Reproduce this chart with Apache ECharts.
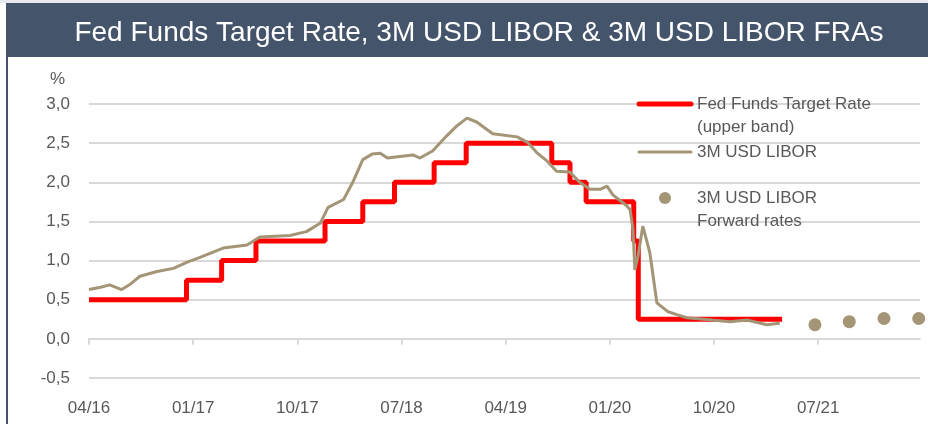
<!DOCTYPE html>
<html>
<head>
<meta charset="utf-8">
<script src="https://cdn.jsdelivr.net/npm/echarts@6/dist/echarts.min.js"></script>
<style>
  html, body { margin: 0; padding: 0; background: #fff; }
  #chart { width: 928px; height: 424px; }
</style>
</head>
<body>
<div id="chart"></div>
<script>
// x axis: months counted from April 2016, a label every 9 months
const xTickLabels = ['04/16', '01/17', '10/17', '07/18', '04/19', '01/20', '10/20', '07/21'];
const yTicks = [-0.5, 0, 0.5, 1, 1.5, 2, 2.5, 3];

// Fed Funds target rate (upper band): dates of change and new level
const fedDates = ['2016-04-01', '2016-12-14', '2017-03-15', '2017-06-14', '2017-12-13', '2018-03-21',
  '2018-06-13', '2018-09-26', '2018-12-19', '2019-07-31', '2019-09-18', '2019-10-30',
  '2020-03-03', '2020-03-15', '2021-03-28'];
const fedValues = [0.5, 0.75, 1.0, 1.25, 1.5, 1.75, 2.0, 2.25, 2.5, 2.25, 2.0, 1.75, 1.25, 0.25, 0.25];

// 3M USD LIBOR
const liborDates = ['2016-04-01', '2016-05-01', '2016-05-25', '2016-06-26', '2016-07-16', '2016-08-13',
  '2016-09-28', '2016-11-10', '2016-12-16', '2017-01-19', '2017-03-19', '2017-05-21', '2017-06-24',
  '2017-09-12', '2017-10-25', '2017-12-01', '2017-12-21', '2018-02-01', '2018-02-25', '2018-03-21',
  '2018-04-15', '2018-05-06', '2018-05-25', '2018-06-27', '2018-08-01', '2018-08-19', '2018-09-22',
  '2018-10-28', '2018-11-25', '2018-12-21', '2019-01-16', '2019-02-28', '2019-05-01', '2019-05-28',
  '2019-06-22', '2019-07-19', '2019-08-13', '2019-09-18', '2019-10-13', '2019-11-10', '2019-12-06',
  '2019-12-24', '2020-01-09', '2020-02-15', '2020-02-24', '2020-03-01', '2020-03-06', '2020-03-14',
  '2020-03-27', '2020-04-15', '2020-05-03', '2020-05-31', '2020-06-25', '2020-07-21', '2020-09-27',
  '2020-11-12', '2020-12-27', '2021-02-18', '2021-03-22'];
const liborValues = [0.63, 0.66, 0.69, 0.63, 0.69, 0.80,
  0.86, 0.90, 0.98, 1.04, 1.16, 1.20, 1.30,
  1.32, 1.37, 1.48, 1.68, 1.78, 2.00, 2.29,
  2.36, 2.37, 2.31, 2.33, 2.35, 2.31, 2.40,
  2.59, 2.72, 2.82, 2.77, 2.62, 2.58, 2.51,
  2.38, 2.27, 2.14, 2.13, 2.00, 1.91, 1.91,
  1.95, 1.84, 1.70, 1.65, 1.40, 0.88, 1.05,
  1.44, 1.10, 0.46, 0.35, 0.31, 0.27, 0.24,
  0.22, 0.24, 0.18, 0.20];

// 3M USD LIBOR forward rates (FRAs)
const fraDates = ['2021-06-23', '2021-09-22', '2021-12-22', '2022-03-22'];
const fraValues = [0.18, 0.22, 0.26, 0.26];

const seriesNames = ['Fed Funds Target Rate\n(upper band)', '3M USD LIBOR', '3M USD LIBOR\nForward rates'];

// months since 2016-04-01
function toMonths(d) {
  const [y, m, day] = d.split('-').map(Number);
  return (y - 2016) * 12 + (m - 4) + (day - 1) / 30.5;
}
const pairs = (dates, vals) => dates.map((d, i) => [toMonths(d), vals[i]]);

const textColor = '#595959';
const gridColor = '#d9d9d9';
const font = 'Liberation Sans, Arial, sans-serif';
const xTickValues = xTickLabels.map((_, i) => i * 9);

const chart = echarts.init(document.getElementById('chart'), null, { renderer: 'canvas' });

const xBase = { type: 'value', min: 0, max: 71.8, interval: 9, splitLine: { show: false } };

const option = {
  animation: false,
  title: {
    text: 'Fed Funds Target Rate, 3M USD LIBOR & 3M USD LIBOR FRAs',
    left: 474,
    top: 14,
    textAlign: 'center',
    textStyle: { color: '#ffffff', fontSize: 28, fontWeight: 'normal', fontFamily: font }
  },
  graphic: [
    { type: 'rect', z: -1, shape: { x: 0, y: 0, width: 928, height: 3 }, style: { fill: '#e7e9ec' } },
    { type: 'rect', z: -1, shape: { x: 6, y: 3, width: 922, height: 54 }, style: { fill: '#44546a' } },
    { type: 'rect', z: -1, shape: { x: 6, y: 3, width: 2, height: 421 }, style: { fill: '#44546a' } },
    // legend
    { type: 'line', z: 100, shape: { x1: 639, y1: 104, x2: 691, y2: 104 }, style: { stroke: '#ff0000', lineWidth: 5, lineCap: 'round' } },
    { type: 'text', z: 100, x: 697, y: 104, style: { text: seriesNames[0], fill: textColor, font: '17px ' + font, lineHeight: 23, verticalAlign: 'top', y: -11 } },
    { type: 'line', z: 100, shape: { x1: 639, y1: 152, x2: 691, y2: 152 }, style: { stroke: '#a39576', lineWidth: 3, lineCap: 'round' } },
    { type: 'text', z: 100, x: 697, y: 152, style: { text: seriesNames[1], fill: textColor, font: '17px ' + font, verticalAlign: 'middle' } },
    { type: 'circle', z: 100, shape: { cx: 665, cy: 198, r: 6 }, style: { fill: '#a39576' } },
    { type: 'text', z: 100, x: 697, y: 198, style: { text: seriesNames[2], fill: textColor, font: '17px ' + font, lineHeight: 23, verticalAlign: 'top', y: -11 } }
  ],
  grid: { left: 89, right: 8, top: 104, bottom: 46, containLabel: false, outerBoundsMode: 'none' },
  xAxis: [
    // axis line and ticks sitting on zero
    Object.assign({}, xBase, {
      axisLine: { onZero: true, lineStyle: { color: gridColor, width: 2 } },
      axisTick: { show: true, length: 6, lineStyle: { color: gridColor, width: 2 }, customValues: xTickValues },
      axisLabel: { show: false }
    }),
    // labels along the bottom edge
    Object.assign({}, xBase, {
      position: 'bottom',
      axisLine: { show: false, onZero: false },
      axisTick: { show: false },
      axisLabel: {
        color: textColor, fontSize: 17, fontFamily: font, margin: 22,
        customValues: xTickValues,
        formatter: v => xTickLabels[Math.round(v / 9)] || ''
      }
    })
  ],
  yAxis: {
    type: 'value',
    min: -0.5,
    max: 3,
    interval: 0.5,
    name: '%',
    nameGap: 16,
    nameTextStyle: { color: textColor, fontSize: 17, fontFamily: font, align: 'right', padding: [0, 24, 0, 0] },
    axisLine: { show: false },
    axisTick: { show: false },
    axisLabel: {
      color: textColor, fontSize: 17, fontFamily: font, margin: 19,
      customValues: yTicks,
      formatter: v => v.toFixed(1).replace('.', ',')
    },
    splitLine: { lineStyle: { color: gridColor, width: 2 } }
  },
  series: [
    {
      name: seriesNames[0],
      type: 'line',
      step: 'end',
      symbol: 'none',
      lineStyle: { color: '#ff0000', width: 5 },
      data: pairs(fedDates, fedValues),
      z: 2
    },
    {
      name: seriesNames[1],
      type: 'line',
      symbol: 'none',
      lineStyle: { color: '#a39576', width: 3 },
      data: pairs(liborDates, liborValues),
      z: 3
    },
    {
      name: seriesNames[2],
      type: 'scatter',
      symbolSize: 13,
      itemStyle: { color: '#a39576', opacity: 1 },
      data: pairs(fraDates, fraValues),
      z: 4
    }
  ]
};

chart.setOption(option);
</script>
</body>
</html>
